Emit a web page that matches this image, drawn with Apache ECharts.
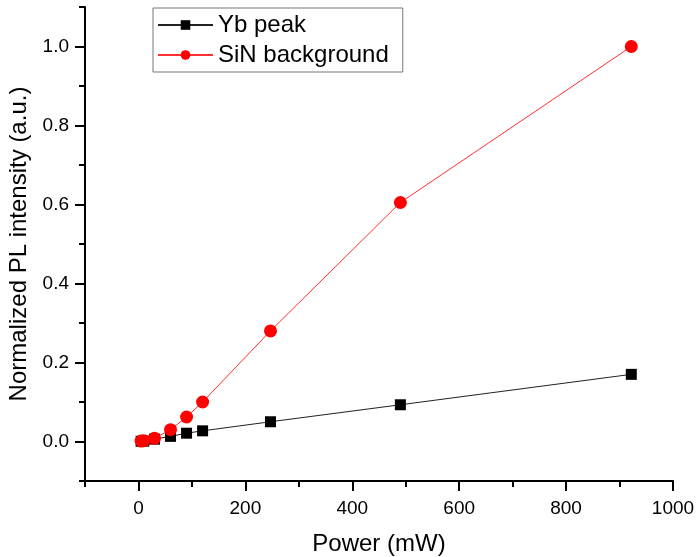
<!DOCTYPE html>
<html>
<head>
<meta charset="utf-8">
<script src="https://cdn.jsdelivr.net/npm/echarts@6/dist/echarts.min.js"></script>
<style>html,body{margin:0;padding:0;background:#fff}#c{width:697px;height:557px}</style>
</head>
<body>
<div id="c"></div>
<script>
const power = [5, 10, 30, 60, 90, 120, 247, 490, 922];
const ybPeak = [0.0005, 0.001, 0.006, 0.013, 0.021, 0.027, 0.05, 0.093, 0.17];
const sinBackground = [0.001, 0.002, 0.008, 0.03, 0.062, 0.1, 0.28, 0.605, 1.0];
const xMajorTicks = [0, 200, 400, 600, 800, 1000];
const xMinorTicks = [-100, 100, 300, 500, 700, 900];
const yMajorTicks = [0, 0.2, 0.4, 0.6, 0.8, 1.0];
const yMinorTicks = [-0.1, 0.1, 0.3, 0.5, 0.7, 0.9, 1.1];

const FONT = 'Liberation Sans, Arial, sans-serif';
const chart = echarts.init(document.getElementById('c'), null, {renderer: 'canvas'});

function pairs(xs, ys) { return xs.map((x, i) => [x, ys[i]]); }

const axisLineStyle = {color: '#000', width: 2};
function tickAxis(min, max, pos, values, len) {
  return {
    type: 'value', min: min, max: max, position: pos,
    axisLine: {show: false, onZero: false},
    axisTick: {show: true, inside: false, length: len, lineStyle: {color: '#000', width: 2}, customValues: values},
    axisLabel: {show: false},
    splitLine: {show: false}
  };
}
chart.setOption({
  animation: false,
  backgroundColor: '#fff',
  grid: {left: 85, right: 24, top: 7, bottom: 76, containLabel: false, outerBoundsMode: 'none'},
  legend: {
    left: 153, top: 8,
    orient: 'vertical',
    backgroundColor: '#fff',
    borderColor: '#777', borderWidth: 1,
    padding: [5, 14, 5, 4],
    itemWidth: 55, itemHeight: 12, itemGap: 6,
    textStyle: {fontFamily: FONT, fontSize: 24, color: '#000'},
    data: ['Yb peak', 'SiN background']
  },
  xAxis: [{
    type: 'value', min: -100, max: 1000, position: 'bottom',
    name: 'Power (mW)', nameLocation: 'middle', nameGap: 51,
    nameTextStyle: {fontFamily: FONT, fontSize: 24, color: '#000'},
    axisLine: {show: true, onZero: false, lineStyle: axisLineStyle},
    axisTick: {show: false},
    axisLabel: {show: true, margin: 18, fontFamily: FONT, fontSize: 19, color: '#000', customValues: xMajorTicks,
      formatter: v => String(v)},
    splitLine: {show: false}
  },
  tickAxis(-100, 1000, 'bottom', xMajorTicks, 10),
  tickAxis(-100, 1000, 'bottom', xMinorTicks, 6)],
  yAxis: [{
    type: 'value', min: -0.1, max: 1.1, position: 'left',
    name: 'Normalized PL intensity (a.u.)', nameLocation: 'middle', nameGap: 47,
    nameTextStyle: {fontFamily: FONT, fontSize: 24, color: '#000'},
    axisLine: {show: true, onZero: false, lineStyle: axisLineStyle},
    axisTick: {show: false},
    axisLabel: {show: true, margin: 16, fontFamily: FONT, fontSize: 19, color: '#000', customValues: yMajorTicks,
      formatter: v => v.toFixed(1)},
    splitLine: {show: false}
  },
  tickAxis(-0.1, 1.1, 'left', yMajorTicks, 10),
  tickAxis(-0.1, 1.1, 'left', yMinorTicks, 6)],
  series: [{
    name: 'Yb peak', type: 'line',
    xAxisIndex: 0, yAxisIndex: 0,
    data: pairs(power, ybPeak),
    symbol: 'rect', symbolSize: 11,
    itemStyle: {color: '#000'},
    lineStyle: {color: '#222', width: 1},
    z: 2
  }, {
    name: 'SiN background', type: 'line',
    xAxisIndex: 0, yAxisIndex: 0,
    data: pairs(power, sinBackground),
    symbol: 'circle', symbolSize: 13,
    itemStyle: {color: '#ff0000'},
    lineStyle: {color: '#ff3030', width: 1},
    z: 3
  }]
});
</script>
</body>
</html>
